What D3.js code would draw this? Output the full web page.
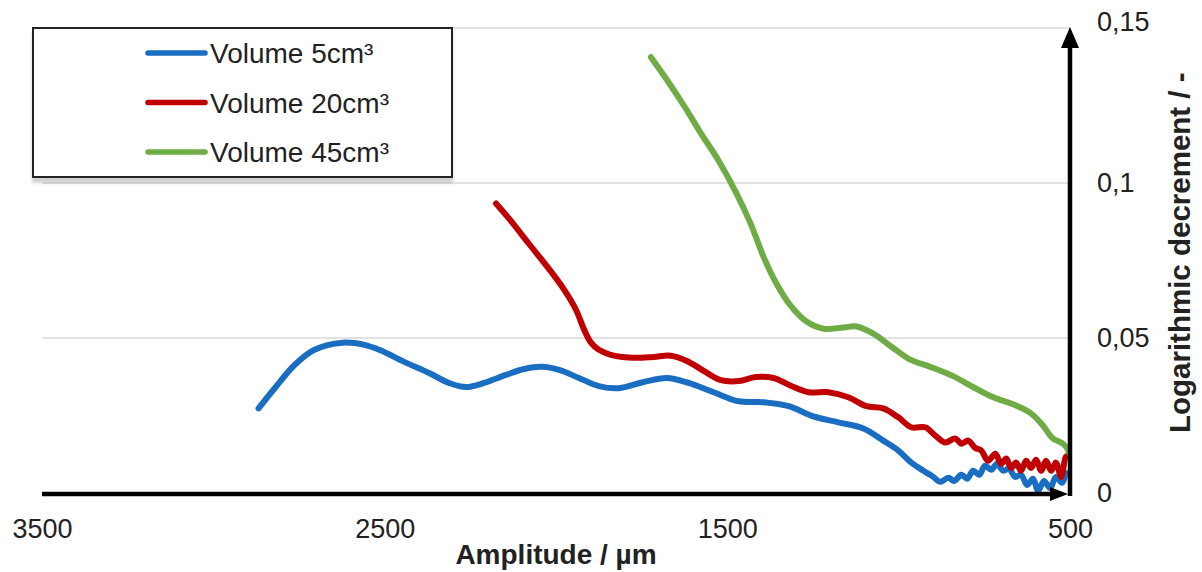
<!DOCTYPE html>
<html>
<head>
<meta charset="utf-8">
<script src="https://cdn.jsdelivr.net/npm/d3@7"></script>
<style>
  body { margin: 0; background: #fff; }
  text { font-family: "Liberation Sans", Arial, sans-serif; fill: #222; }
</style>
</head>
<body>
<script>
const seriesNames = ["Volume 5cm³", "Volume 20cm³", "Volume 45cm³"];
const seriesColors = ["#1a6ec1", "#c00000", "#6fac46"];

const xTicks = [3500, 2500, 1500, 500];
const yTicks = [0, 0.05, 0.1, 0.15];

// Volume 5cm³
const vol5Amplitude = [2868, 2821, 2763, 2705, 2623, 2559, 2516, 2443, 2370, 2312, 2262, 2210, 2146, 2093, 2041, 1991, 1933, 1875, 1817, 1744, 1677, 1613, 1540, 1467, 1394, 1321, 1249, 1176, 1103, 1045, 1001, 963, 928, 899, 879, 855, 838, 817, 800, 783, 765, 748, 730, 713, 695, 678, 660, 643, 625, 608, 593, 576, 558, 541, 523, 512];
const vol5Decrement = [0.0273, 0.0338, 0.0413, 0.0462, 0.0485, 0.0478, 0.0462, 0.0423, 0.0387, 0.0355, 0.0342, 0.0355, 0.0381, 0.0400, 0.0407, 0.0397, 0.0371, 0.0345, 0.0338, 0.0358, 0.0371, 0.0355, 0.0325, 0.0296, 0.0293, 0.0280, 0.0247, 0.0228, 0.0208, 0.0169, 0.0137, 0.0098, 0.0072, 0.0052, 0.0036, 0.0049, 0.0039, 0.0059, 0.0046, 0.0072, 0.0059, 0.0088, 0.0075, 0.0094, 0.0072, 0.0078, 0.0052, 0.0059, 0.0026, 0.0046, 0.0007, 0.0039, 0.0016, 0.0052, 0.0033, 0.0065];

// Volume 20cm³
const vol20Amplitude = [2175, 2137, 2079, 2020, 1977, 1942, 1918, 1898, 1875, 1831, 1773, 1715, 1665, 1618, 1569, 1519, 1467, 1417, 1365, 1313, 1263, 1205, 1147, 1094, 1045, 1001, 963, 922, 893, 864, 835, 817, 797, 777, 759, 739, 718, 701, 686, 672, 657, 643, 628, 614, 599, 584, 570, 555, 541, 526, 512, 505];
const vol20Decrement = [0.0934, 0.0885, 0.0804, 0.0722, 0.0657, 0.0592, 0.0527, 0.0485, 0.0462, 0.0443, 0.0436, 0.0439, 0.0443, 0.0426, 0.0394, 0.0364, 0.0361, 0.0374, 0.0371, 0.0345, 0.0325, 0.0325, 0.0309, 0.0280, 0.0273, 0.0244, 0.0212, 0.0212, 0.0185, 0.0163, 0.0176, 0.0159, 0.0169, 0.0146, 0.0137, 0.0104, 0.0127, 0.0094, 0.0111, 0.0081, 0.0098, 0.0072, 0.0104, 0.0081, 0.0107, 0.0072, 0.0104, 0.0072, 0.0098, 0.0052, 0.0117, 0.0120];

// Volume 45cm³
const vol45Amplitude = [1723, 1677, 1627, 1578, 1525, 1473, 1432, 1394, 1356, 1316, 1269, 1219, 1161, 1123, 1074, 1021, 966, 908, 841, 783, 724, 666, 614, 579, 550, 526, 512, 503];
const vol45Decrement = [0.1406, 0.1334, 0.1250, 0.1162, 0.1071, 0.0966, 0.0869, 0.0761, 0.0674, 0.0605, 0.0553, 0.0530, 0.0534, 0.0537, 0.0514, 0.0472, 0.0430, 0.0407, 0.0377, 0.0342, 0.0309, 0.0286, 0.0257, 0.0218, 0.0176, 0.0163, 0.0150, 0.0130];

const series = [
    d3.zip(vol5Amplitude, vol5Decrement),
    d3.zip(vol20Amplitude, vol20Decrement),
    d3.zip(vol45Amplitude, vol45Decrement)
];

const W = 1202, H = 572;
const margin = { top: 28, right: 132, bottom: 79, left: 42 };
const width = W - margin.left - margin.right,
      height = H - margin.top - margin.bottom;

const svg = d3.select("body").append("svg")
    .attr("width", W)
    .attr("height", H);

const defs = svg.append("defs");
const shadow = defs.append("filter").attr("id", "shadow")
    .attr("x", "-5%").attr("y", "-5%").attr("width", "110%").attr("height", "120%");
shadow.append("feDropShadow")
    .attr("dx", 0).attr("dy", 5)
    .attr("stdDeviation", 1.5)
    .attr("flood-color", "#000")
    .attr("flood-opacity", 0.18);

const g = svg.append("g")
    .attr("transform", "translate(" + margin.left + "," + margin.top + ")");

const x = d3.scaleLinear().domain([3500, 500]).range([0, width]);
const y = d3.scaleLinear().domain([0, 0.15]).range([height, 0]);

// gridlines
g.append("g")
 .selectAll("line")
 .data(yTicks.slice(1))
 .enter().append("line")
 .attr("x1", 0)
 .attr("x2", width)
 .attr("y1", d => y(d))
 .attr("y2", d => y(d))
 .attr("stroke", "#d9d9d9")
 .attr("stroke-width", 1.5);

// x tick labels
g.append("g")
 .attr("transform", "translate(0," + height + ")")
 .call(d3.axisBottom(x).tickValues(xTicks).tickSize(0).tickPadding(26).tickFormat(d3.format("d")))
 .call(a => a.select(".domain").remove())
 .selectAll("text")
 .style("font-size", "27px")
 .style("font-family", "'Liberation Sans', Arial, sans-serif")
 .attr("fill", "#222");

// y tick labels (right side)
g.append("g")
 .attr("transform", "translate(" + width + ",0)")
 .call(d3.axisRight(y).tickValues(yTicks).tickSize(0).tickPadding(27)
     .tickFormat(d => String(d).replace(".", ",")))
 .call(a => a.select(".domain").remove())
 .selectAll("text")
 .style("font-size", "27px")
 .style("font-family", "'Liberation Sans', Arial, sans-serif")
 .attr("fill", "#222")
 .attr("dy", (d, i) => i === 3 ? "0.1em" : "0.32em");

// lines
const line = d3.line()
    .x(d => x(d[0]))
    .y(d => y(d[1]))
    .curve(d3.curveCatmullRom.alpha(0.5));

g.append("g")
 .selectAll("path")
 .data(series)
 .enter().append("path")
 .attr("d", line)
 .attr("fill", "none")
 .attr("stroke", (d, i) => seriesColors[i])
 .attr("stroke-width", 6)
 .attr("stroke-linejoin", "round")
 .attr("stroke-linecap", "round");

// axes with arrows
g.append("line")
 .attr("x1", 0).attr("x2", width - 16)
 .attr("y1", height + 1).attr("y2", height + 1)
 .attr("stroke", "#000").attr("stroke-width", 4.5);
g.append("path")
 .attr("d", d3.line()([[width - 20, height + 1 - 7], [width - 2, height + 1], [width - 20, height + 1 + 7]]))
 .attr("fill", "#000");

g.append("line")
 .attr("x1", width).attr("x2", width)
 .attr("y1", height + 3).attr("y2", y(0.15) + 16)
 .attr("stroke", "#000").attr("stroke-width", 4.5);
g.append("path")
 .attr("d", d3.line()([[width - 9, y(0.15) + 20], [width, y(0.15) - 1], [width + 9, y(0.15) + 20]]))
 .attr("fill", "#000");

// axis titles
g.append("text")
 .attr("x", width / 2)
 .attr("y", height + 71)
 .attr("text-anchor", "middle")
 .style("font-size", "28px")
 .style("font-weight", "bold")
 .text("Amplitude / µm");

g.append("text")
 .attr("transform", "translate(" + (width + 120) + "," + (y(0.0775)) + ") rotate(-90)")
 .attr("text-anchor", "middle")
 .style("font-size", "29.5px")
 .style("font-weight", "bold")
 .text("Logarithmic decrement / -");

// legend
const legend = svg.append("g").attr("transform", "translate(33,28)");
legend.append("rect")
 .attr("width", 419)
 .attr("height", 149)
 .attr("fill", "#fff")
 .attr("stroke", "#222")
 .attr("stroke-width", 2)
 .attr("filter", "url(#shadow)");

const item = legend.selectAll(".item")
 .data(seriesNames)
 .enter().append("g")
 .attr("class", "item")
 .attr("transform", (d, i) => "translate(0," + (25 + i * 49.5) + ")");
item.append("line")
 .attr("x1", 115).attr("x2", 172)
 .attr("stroke", (d, i) => seriesColors[i])
 .attr("stroke-width", 5.5)
 .attr("stroke-linecap", "round");
item.append("text")
 .attr("x", 177)
 .attr("dy", "0.36em")
 .style("font-size", "28px")
 .text(d => d);
</script>
</body>
</html>
